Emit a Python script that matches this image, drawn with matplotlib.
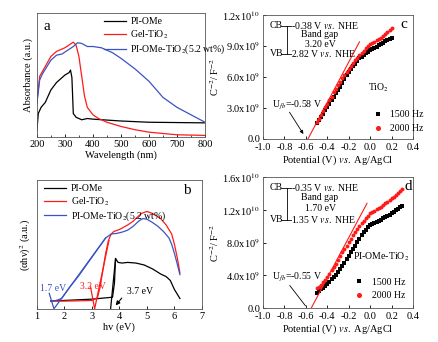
import numpy as np
import matplotlib
matplotlib.use('Agg')
import matplotlib.pyplot as plt

plt.rcParams['font.family'] = ['Liberation Serif', 'DejaVu Serif']
plt.rcParams['mathtext.fontset'] = 'stix'
plt.rcParams['font.size'] = 7.5

# ---- panel a: absorbance ----
wl_black = [200, 205, 215, 230, 250, 270, 300, 315, 320, 325, 330, 340, 360, 380, 400, 500, 600, 800]
abs_black = [0.05, 0.19, 0.24, 0.28, 0.38, 0.44, 0.50, 0.52, 0.54, 0.48, 0.19, 0.16, 0.14, 0.15, 0.145, 0.13, 0.12, 0.115]
wl_red = [200, 210, 220, 250, 270, 300, 320, 330, 340, 350, 360, 370, 380, 400, 420, 450, 500, 550, 600, 700, 800]
abs_red = [0.28, 0.49, 0.53, 0.65, 0.69, 0.72, 0.75, 0.765, 0.74, 0.65, 0.49, 0.33, 0.24, 0.18, 0.15, 0.12, 0.086, 0.06, 0.04, 0.019, 0.014]
wl_blue = [200, 210, 220, 250, 270, 290, 310, 330, 345, 360, 380, 400, 430, 470, 500, 550, 600, 650, 700, 750, 800]
abs_blue = [0.27, 0.46, 0.51, 0.62, 0.66, 0.67, 0.70, 0.73, 0.76, 0.755, 0.73, 0.73, 0.72, 0.68, 0.635, 0.55, 0.45, 0.32, 0.24, 0.18, 0.12]

# ---- panel b: Tauc plot ----
hv_black = [1.5, 2.0, 2.5, 3.0, 3.5, 3.75, 3.82, 3.86, 3.95, 4.1, 4.3, 4.6, 4.9, 5.2, 5.5, 5.7, 5.85, 6.0, 6.2]
tauc_black = [0.06, 0.065, 0.07, 0.075, 0.085, 0.09, 0.2, 0.39, 0.36, 0.355, 0.36, 0.355, 0.34, 0.31, 0.27, 0.25, 0.22, 0.15, 0.08]
hv_red = [1.5, 2.0, 2.5, 3.0, 3.2, 3.3, 3.4, 3.5, 3.6, 3.7, 3.8, 4.0, 4.3, 4.5, 4.8, 5.0, 5.2, 5.5, 5.7, 5.9, 6.0, 6.1, 6.2]
tauc_red = [0.06, 0.06, 0.062, 0.065, 0.085, 0.17, 0.30, 0.43, 0.53, 0.58, 0.60, 0.615, 0.65, 0.68, 0.74, 0.755, 0.74, 0.70, 0.65, 0.58, 0.50, 0.40, 0.28]
hv_blue = [1.5, 1.7, 1.9, 2.0, 2.2, 2.5, 2.8, 3.0, 3.3, 3.5, 3.7, 3.9, 4.1, 4.3, 4.5, 4.7, 4.85, 5.0, 5.2, 5.4, 5.6, 5.8, 5.9, 6.0, 6.1, 6.2]
tauc_blue = [0.06, 0.065, 0.08, 0.11, 0.17, 0.25, 0.34, 0.40, 0.49, 0.55, 0.58, 0.585, 0.595, 0.61, 0.64, 0.68, 0.70, 0.695, 0.67, 0.64, 0.60, 0.55, 0.50, 0.43, 0.35, 0.265]

# ---- panel c: Mott-Schottky TiO2 (units of 1e9) ----
pot_c = np.linspace(-0.50, 0.20, 36)
c_1500 = [1.50, 1.80, 2.15, 2.45, 2.80, 3.10, 3.40, 3.75, 4.05, 4.40, 4.70, 5.05, 5.45, 5.80, 6.15, 6.50,
          6.80, 7.05, 7.30, 7.55, 7.80, 7.95, 8.15, 8.30, 8.45, 8.60, 8.72, 8.85, 8.95, 9.08, 9.20, 9.32,
          9.45, 9.55, 9.68, 9.80]
c_2000 = [1.60, 1.95, 2.30, 2.70, 3.05, 3.40, 3.75, 4.10, 4.50, 4.85, 5.20, 5.55, 5.85, 6.20, 6.50, 6.80,
          7.10, 7.35, 7.60, 7.85, 8.10, 8.35, 8.55, 8.80, 9.00, 9.20, 9.30, 9.42, 9.55, 9.68, 9.80, 9.95,
          10.15, 10.35, 10.52, 10.70]

# ---- panel d: Mott-Schottky PI-OMe-TiO2 (units of 1e9) ----
pot_d = np.linspace(-0.50, 0.30, 41)
d_1500 = [1.85, 2.05, 2.30, 2.50, 2.75, 3.00, 3.25, 3.55, 3.80, 4.10, 4.40, 4.75, 5.15, 5.55, 5.95, 6.35,
          6.80, 7.25, 7.65, 8.10, 8.50, 8.90, 9.30, 9.60, 9.95, 10.15, 10.30, 10.42, 10.55, 10.68, 10.80,
          10.95, 11.10, 11.25, 11.42, 11.60, 11.78, 11.95, 12.15, 12.32, 12.50]
d_2000 = [2.40, 2.60, 2.85, 3.15, 3.45, 3.80, 4.20, 4.60, 5.05, 5.45, 5.90, 6.35, 6.80, 7.25, 7.65, 8.10,
          8.50, 8.90, 9.25, 9.65, 10.00, 10.35, 10.70, 11.00, 11.30, 11.60, 11.75, 11.90, 12.05, 12.22,
          12.40, 12.60, 12.80, 13.00, 13.20, 13.40, 13.62, 13.85, 14.08, 14.30, 14.50]

# flat-band potentials and tangent end points
ufb_c = -0.58
ufb_d = -0.55
tan_c = (-0.10, 9.4)
tan_d = (-0.03, 12.8)

red = '#ff1a1a'
blue = '#3a53c4'

fig = plt.figure(figsize=(4.39, 3.42), dpi=100)
ax_a = fig.add_axes([0.084, 0.599, 0.383, 0.363])
ax_c = fig.add_axes([0.599, 0.594, 0.342, 0.362])
ax_b = fig.add_axes([0.084, 0.097, 0.376, 0.377])
ax_d = fig.add_axes([0.599, 0.099, 0.342, 0.383])

for ax in [ax_a, ax_b, ax_c, ax_d]:
    ax.tick_params(direction='in', length=2.5, width=0.6, pad=2, labelsize=7.5)
    ax.tick_params(which='minor', direction='in', length=1.5, width=0.5)
    for s in ax.spines.values():
        s.set_linewidth(0.6)
        s.set_color('#555555')

# panel a
ax_a.plot(wl_black, abs_black, color='black', lw=0.9, label='PI-OMe')
ax_a.plot(wl_red, abs_red, color=red, lw=0.9, label='Gel-TiO$_2$')
ax_a.plot(wl_blue, abs_blue, color=blue, lw=0.9, label='PI-OMe-TiO$_2$(5.2 wt%)')
ax_a.set_xlim(200, 800)
ax_a.set_ylim(0, 1)
ax_a.set_yticks([])
ax_a.set_xticks([200, 300, 400, 500, 600, 700, 800])
ax_a.set_xticks([250, 350, 450, 550, 650, 750], minor=True)
ax_a.set_xlabel('Wavelength (nm)', labelpad=1)
ax_a.set_ylabel('Absorbance (a.u.)', labelpad=3)
ax_a.legend(loc='upper left', bbox_to_anchor=(0.36, 1.02), frameon=False, fontsize=7,
            handlelength=2.2, handletextpad=0.5, labelspacing=0.2, borderpad=0.2)
ax_a.text(0.04, 0.89, 'a', transform=ax_a.transAxes, fontsize=11, va='center')

# panel b
ax_b.plot(hv_black, tauc_black, color='black', lw=0.9, label='PI-OMe')
ax_b.plot(hv_red, tauc_red, color=red, lw=0.9, label='Gel-TiO$_2$')
ax_b.plot(hv_blue, tauc_blue, color=blue, lw=0.9, label='PI-OMe-TiO$_2$(5.2 wt%)')
ax_b.plot([1.45, 1.62, 3.5], [0.12, 0.0, 0.55], color=blue, lw=0.9)
ax_b.plot([2.95, 3.1, 3.62], [0.17, 0.0, 0.53], color=red, lw=0.9)
ax_b.plot([3.68, 3.86], [0.0, 0.39], color='black', lw=0.9)
ax_b.annotate('', xy=(3.8, 0.01), xytext=(4.15, 0.1),
              arrowprops=dict(arrowstyle='-|>', color='black', lw=0.8, mutation_scale=6))
ax_b.text(1.1, 0.157, '1.7 eV', color=blue, fontsize=7, va='center')
ax_b.text(2.55, 0.17, '3.2 eV', color=red, fontsize=7, va='center')
ax_b.text(4.27, 0.137, '3.7 eV', color='black', fontsize=7, va='center')
ax_b.set_xlim(1, 7)
ax_b.set_ylim(0, 1)
ax_b.set_yticks([])
ax_b.set_xticks([1, 2, 3, 4, 5, 6, 7])
ax_b.set_xlabel('hv (eV)', labelpad=1)
ax_b.set_ylabel('(αhν)$^2$ (a.u.)', labelpad=3)
ax_b.legend(loc='upper left', bbox_to_anchor=(0.0, 1.02), frameon=False, fontsize=7,
            handlelength=2.3, handletextpad=0.5, labelspacing=0.2, borderpad=0.2)
ax_b.text(0.885, 0.92, 'b', transform=ax_b.transAxes, fontsize=11, va='center')


def ms_panel(ax, pot, y1, y2, ufb, tan_end, ylim, yticks, ylabels, cb, gap, vb, name, letter,
             ufb_txt_y, arrow_from, arrow_head, leg_x, leg_y, name_xy):
    ax.plot(pot, np.array(y1) * 1e9, 's', color='black', ms=2.3, mew=0, label='1500 Hz')
    ax.plot(pot, np.array(y2) * 1e9, 'o', color=red, ms=2.8, mew=0, label='2000 Hz')
    ax.plot([ufb, tan_end[0]], [0, tan_end[1] * 1e9], color=red, lw=0.8)
    ax.set_xlim(-1.0, 0.4)
    ax.set_ylim(*ylim)
    ax.set_xticks([-1.0, -0.8, -0.6, -0.4, -0.2, 0.0, 0.2, 0.4])
    ax.set_xticklabels(['-1.0', '-0.8', '-0.6', '-0.4', '-0.2', '0.0', '0.2', '0.4'])
    ax.tick_params(axis='x', pad=3)
    ax.set_yticks(yticks)
    ax.set_yticklabels(ylabels)
    ax.set_xlabel(r'Potential (V) $\mathit{vs.}$ Ag/AgCl', labelpad=1)
    ax.set_ylabel('C$^{-2}$/ F$^{-2}$', labelpad=1)
    tr = ax.transAxes
    ax.text(0.045, cb, 'CB', transform=tr, va='center', fontsize=7)
    ax.text(0.045, vb, 'VB', transform=tr, va='center', fontsize=7)
    ax.plot([0.12, 0.185], [cb, cb], color='black', lw=0.6, transform=tr)
    ax.plot([0.12, 0.185], [vb, vb], color='black', lw=0.6, transform=tr)
    ax.plot([0.158, 0.158], [cb, vb], color='black', lw=0.6, transform=tr)
    ax.text(0.19, cb, r'%s V $\mathit{vs.}$ NHE' % gap[0], transform=tr, va='center', fontsize=7)
    ax.text(0.38, (cb * 0.68 + vb * 0.32), 'Band gap', transform=tr, va='center', ha='center', fontsize=7)
    ax.text(0.38, (cb * 0.34 + vb * 0.66), '%s eV' % gap[1], transform=tr, va='center', ha='center', fontsize=7)
    ax.text(0.19, vb, r'%s V $\mathit{vs.}$ NHE' % gap[2], transform=tr, va='center', fontsize=7)
    ax.text(name_xy[0], name_xy[1], name, transform=tr, va='center', fontsize=7)
    ax.text(0.94 if letter == 'c' else 0.965, 0.925, letter, transform=tr, va='center',
            ha='center', fontsize=11)
    ax.text(arrow_from[0] - 0.11, ufb_txt_y, 'U$_{fb}$=%.2f V' % ufb, transform=tr,
            va='center', fontsize=7)
    ax.annotate('', xy=arrow_head, xytext=arrow_from, xycoords=tr, textcoords=tr,
                arrowprops=dict(arrowstyle='-|>' if letter == 'c' else '-', color='black',
                                lw=0.6, mutation_scale=5))
    ax.legend(loc='upper left', bbox_to_anchor=(leg_x, leg_y), frameon=False, fontsize=7,
              handlelength=1.0, handletextpad=0.8, labelspacing=0.5, borderpad=0,
              markerscale=1.3)


ms_panel(ax_c, pot_c, c_1500, c_2000, ufb_c, tan_c, (0, 1.2e10),
         [0, 3e9, 6e9, 9e9, 1.2e10],
         ['0.0', '3.0x10$^9$', '6.0x10$^9$', '9.0x10$^9$', '1.2x10$^{10}$'],
         0.912, ('-0.38', '3.20', '2.82'), 0.686, 'TiO$_2$', 'c',
         0.27, (0.167, 0.234), (0.279, 0.02), 0.70, 0.27, (0.70, 0.41))
ms_panel(ax_d, pot_d, d_1500, d_2000, ufb_d, tan_d, (0, 1.6e10),
         [0, 4e9, 8e9, 1.2e10, 1.6e10],
         ['0.0', '4.0x10$^9$', '8.0x10$^9$', '1.2x10$^{10}$', '1.6x10$^{10}$'],
         0.92, ('-0.35', '1.70', '1.35'), 0.673, 'PI-OMe-TiO$_2$', 'd',
         0.235, (0.167, 0.19), (0.295, 0.0), 0.575, 0.27, (0.60, 0.396))

fig.savefig('out.png', dpi=100)
